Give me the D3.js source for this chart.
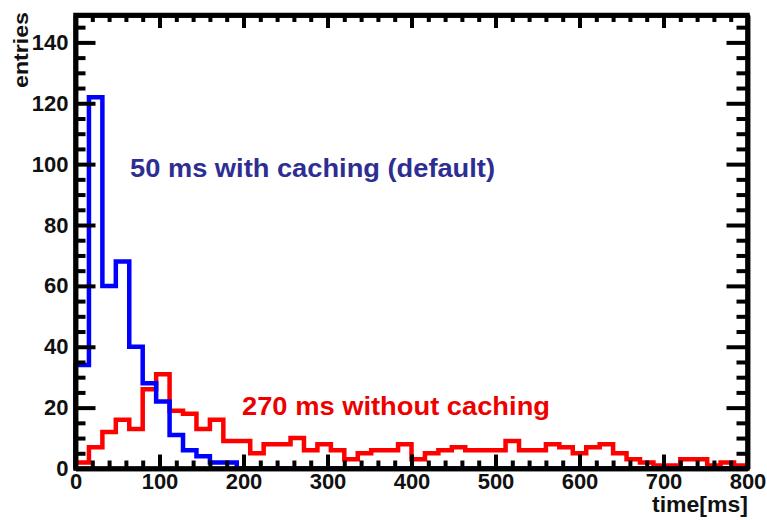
<!DOCTYPE html>
<html>
<head>
<meta charset="utf-8">
<script src="https://cdn.jsdelivr.net/npm/d3@7"></script>
<style>
  body { margin: 0; background: #fff; }
</style>
</head>
<body>
<div id="chart"></div>
<script>
// histogram bins: 50 bins of 16 ms from 0 to 800 ms
const binWidthMs = 16;
const blueCounts = [34, 122, 60, 68, 40, 28, 22, 11, 6, 4, 2, 2,
  0, 0, 0, 0, 0, 0, 0, 0, 0, 0, 0, 0, 0, 0, 0, 0, 0, 0,
  0, 0, 0, 0, 0, 0, 0, 0, 0, 0, 0, 0, 0, 0, 0, 0, 0, 0, 0, 0];
const redCounts = [2, 7, 12, 16, 13, 26, 31, 19, 18, 13,
  16, 9, 9, 5, 8, 8, 10, 6, 8, 6,
  3, 5, 6, 6, 8, 3, 5, 6, 7, 6,
  6, 6, 9, 6, 6, 8, 7, 5, 7, 8,
  5, 3, 2, 1, 1, 3, 3, 1, 2, 1];
const xTickValues = [0, 100, 200, 300, 400, 500, 600, 700, 800];
const yTickValues = [0, 20, 40, 60, 80, 100, 120, 140];
const blueLabel = "50 ms with caching (default)";
const redLabel = "270 ms without caching";

const width = 767, height = 520;
const frame = { left: 75.5, right: 747.5, top: 15, bottom: 468.5 };
const font = "'Liberation Sans', Arial, Helvetica, sans-serif";

const svg = d3.select("#chart").append("svg")
  .attr("width", width).attr("height", height)
  .style("background", "white")
  .style("font-family", font);

const x = d3.scaleLinear().domain([0, 800]).range([frame.left, frame.right]);
const y = d3.scaleLinear().domain([0, 149]).range([frame.bottom, frame.top]);

// step outline like ROOT's histogram drawing
function stepPoints(counts) {
  const pts = [[0, 0]];
  counts.forEach((c, i) => {
    pts.push([i * binWidthMs, c]);
    pts.push([(i + 1) * binWidthMs, c]);
  });
  pts.push([counts.length * binWidthMs, 0]);
  return pts;
}
const line = d3.line().x(d => x(d[0])).y(d => y(d[1]));

svg.append("path")
  .attr("d", line(stepPoints(redCounts)))
  .attr("fill", "none").attr("stroke", "#ff0000")
  .attr("stroke-width", 4.5).attr("stroke-linejoin", "miter");

svg.append("path")
  .attr("d", line(stepPoints(blueCounts)))
  .attr("fill", "none").attr("stroke", "#0000ff")
  .attr("stroke-width", 4.5).attr("stroke-linejoin", "miter");

// axes, ticks pointing inwards
const xMinor = d3.range(0, 801, 20).filter(v => v % 100 !== 0);
const yMinor = d3.range(0, 150, 5).filter(v => v % 20 !== 0);

function styleAxis(g) {
  g.selectAll("path.domain").attr("stroke", "#000").attr("stroke-width", 4.5);
  g.selectAll(".tick line").attr("stroke", "#000").attr("stroke-width", 4);
  g.selectAll(".tick text")
    .attr("fill", "#111")
    .style("font-family", font)
    .style("font-size", "22px")
    .style("font-weight", "bold");
}

// bottom
svg.append("g").attr("transform", `translate(0,${frame.bottom})`)
  .call(d3.axisBottom(x).tickValues(xMinor).tickSize(-8).tickSizeOuter(0).tickFormat(""))
  .call(styleAxis);
svg.append("g").attr("transform", `translate(0,${frame.bottom})`)
  .call(d3.axisBottom(x).tickValues(xTickValues).tickSize(-14).tickSizeOuter(0).tickPadding(5).tickFormat(d3.format("d")))
  .call(styleAxis);
// top
svg.append("g").attr("transform", `translate(0,${frame.top})`)
  .call(d3.axisTop(x).tickValues(xMinor).tickSize(-7).tickSizeOuter(0).tickFormat(""))
  .call(styleAxis);
svg.append("g").attr("transform", `translate(0,${frame.top})`)
  .call(d3.axisTop(x).tickValues(xTickValues).tickSize(-13).tickSizeOuter(0).tickFormat(""))
  .call(styleAxis);
// left
svg.append("g").attr("transform", `translate(${frame.left},0)`)
  .call(d3.axisLeft(y).tickValues(yMinor).tickSize(-10).tickSizeOuter(0).tickFormat(""))
  .call(styleAxis);
svg.append("g").attr("transform", `translate(${frame.left},0)`)
  .call(d3.axisLeft(y).tickValues(yTickValues).tickSize(-20).tickSizeOuter(0).tickPadding(7).tickFormat(d3.format("d")))
  .call(styleAxis);
// right
svg.append("g").attr("transform", `translate(${frame.right},0)`)
  .call(d3.axisRight(y).tickValues(yMinor).tickSize(-11).tickSizeOuter(0).tickFormat(""))
  .call(styleAxis);
svg.append("g").attr("transform", `translate(${frame.right},0)`)
  .call(d3.axisRight(y).tickValues(yTickValues).tickSize(-21).tickSizeOuter(0).tickFormat(""))
  .call(styleAxis);

// close frame corners
svg.append("rect")
  .attr("x", frame.left).attr("y", frame.top)
  .attr("width", frame.right - frame.left).attr("height", frame.bottom - frame.top)
  .attr("fill", "none").attr("stroke", "#000").attr("stroke-width", 4.5);

// axis titles
svg.append("text")
  .attr("transform", `translate(28,12) rotate(-90)`)
  .attr("text-anchor", "end")
  .attr("textLength", 76).attr("lengthAdjust", "spacingAndGlyphs")
  .style("font-size", "20px").style("font-weight", "bold").attr("fill", "#111")
  .text("entries");

svg.append("text")
  .attr("x", 748).attr("y", 512)
  .attr("text-anchor", "end")
  .attr("textLength", 96).attr("lengthAdjust", "spacingAndGlyphs")
  .style("font-size", "22px").style("font-weight", "bold").attr("fill", "#111")
  .text("time[ms]");

// annotations
svg.append("text")
  .attr("x", 130).attr("y", 177)
  .attr("textLength", 365).attr("lengthAdjust", "spacingAndGlyphs")
  .style("font-size", "25px").style("font-weight", "bold").attr("fill", "#2e2e92")
  .text(blueLabel);

svg.append("text")
  .attr("x", 242).attr("y", 415)
  .attr("textLength", 308).attr("lengthAdjust", "spacingAndGlyphs")
  .style("font-size", "25px").style("font-weight", "bold").attr("fill", "#ee0000")
  .text(redLabel);
</script>
</body>
</html>
